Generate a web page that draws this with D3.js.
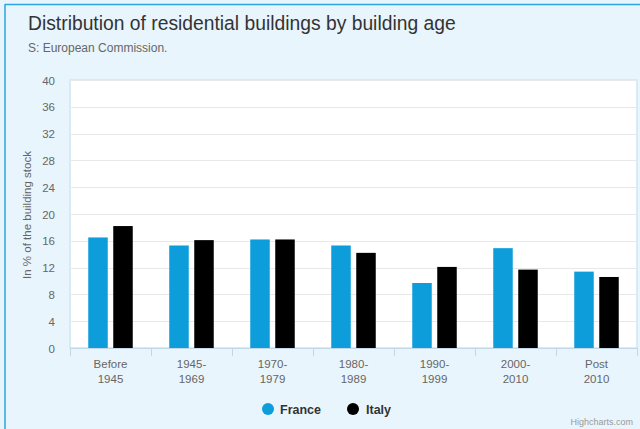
<!DOCTYPE html>
<html>
<head>
<meta charset="utf-8">
<script src="https://cdn.jsdelivr.net/npm/d3@7/dist/d3.min.js"></script>
<style>
  html, body { margin: 0; padding: 0; background: #fff; }
  svg { display: block; font-family: "Liberation Sans", Arial, sans-serif; }
</style>
</head>
<body>
<svg id="chart" width="640" height="429"></svg>
<script>
// Building stock share by construction period (% of residential buildings)
const categories = [["Before", "1945"], ["1945-", "1969"], ["1970-", "1979"], ["1980-", "1989"],
                    ["1990-", "1999"], ["2000-", "2010"], ["Post", "2010"]];
const seriesNames = ["France", "Italy"];
const france = [16.5, 15.3, 16.2, 15.3, 9.7, 14.9, 11.4];
const italy  = [18.2, 16.1, 16.2, 14.2, 12.1, 11.7, 10.6];
const yTicks = [0, 4, 8, 12, 16, 20, 24, 28, 32, 36, 40];
const colors = ["#0d9ddb", "#000000"];

const svg = d3.select("#chart");
const W = 640, H = 429;
const plot = { left: 70, top: 80, right: 637, bottom: 348 };

// Page background and frame
svg.append("rect").attr("width", W).attr("height", H).attr("fill", "#e9f5fc");
svg.append("line").attr("x1", 5).attr("x2", W).attr("y1", 4.5).attr("y2", 4.5)
   .attr("stroke", "#2aa6dc").attr("stroke-width", 1.5);
svg.append("line").attr("x1", 5).attr("x2", 5).attr("y1", 4).attr("y2", H)
   .attr("stroke", "#2aa6dc").attr("stroke-width", 1.5);

// Titles
svg.append("text").attr("x", 28).attr("y", 30)
   .attr("font-size", 19.3).attr("fill", "#333")
   .text("Distribution of residential buildings by building age");
svg.append("text").attr("x", 28).attr("y", 52)
   .attr("font-size", 12).attr("fill", "#666")
   .text("S: European Commission.");

// Scales
const x0 = d3.scaleBand().domain(d3.range(categories.length))
  .range([plot.left, plot.right]).paddingInner(0).paddingOuter(0);
const x1 = d3.scaleBand().domain(seriesNames)
  .range([0, x0.bandwidth()]).paddingInner(0.22).paddingOuter(0.73);
const y = d3.scaleLinear().domain([0, 40]).range([plot.bottom, plot.top]);

// Plot background
svg.append("rect").attr("x", plot.left).attr("y", plot.top)
   .attr("width", plot.right - plot.left).attr("height", plot.bottom - plot.top)
   .attr("fill", "#fff").attr("stroke", "#cde6f3").attr("stroke-width", 1.5);

// Gridlines
svg.append("g").selectAll("line").data(yTicks.filter(t => t > 0)).join("line")
   .attr("x1", plot.left).attr("x2", plot.right)
   .attr("y1", d => Math.round(y(d)) + 0.5).attr("y2", d => Math.round(y(d)) + 0.5)
   .attr("stroke", "#e8e8e8");

// Y axis labels
const yAxis = d3.axisLeft(y).tickValues(yTicks).tickSize(0).tickPadding(0);
const yg = svg.append("g").attr("transform", `translate(${plot.left - 15},0)`).call(yAxis);
yg.select(".domain").remove();
yg.selectAll("text").attr("font-size", 11.5).attr("fill", "#666")
  .attr("font-family", "Liberation Sans, Arial, sans-serif").attr("dy", "0.35em");

svg.append("text")
   .attr("transform", `translate(31,${(plot.top + plot.bottom) / 2 + 1}) rotate(-90)`)
   .attr("text-anchor", "middle").attr("font-size", 11.5).attr("fill", "#666")
   .text("In % of the building stock");

// Bars
const data = categories.map((c, i) => ({ i, values: [france[i], italy[i]] }));
const groups = svg.append("g").selectAll("g").data(data).join("g")
   .attr("transform", d => `translate(${x0(d.i)},0)`);
groups.selectAll("rect").data(d => d.values.map((v, k) => ({ k, v }))).join("rect")
   .attr("x", d => x1(seriesNames[d.k]))
   .attr("width", x1.bandwidth())
   .attr("y", d => y(d.v))
   .attr("height", d => y(0) - y(d.v))
   .attr("fill", d => colors[d.k]);

// X axis line and ticks
svg.append("line").attr("x1", plot.left).attr("x2", plot.right)
   .attr("y1", plot.bottom + 0.5).attr("y2", plot.bottom + 0.5)
   .attr("stroke", "#c0d8e8");
svg.append("g").selectAll("line").data(d3.range(categories.length + 1)).join("line")
   .attr("x1", d => Math.round(plot.left + d * x0.bandwidth()) + 0.5)
   .attr("x2", d => Math.round(plot.left + d * x0.bandwidth()) + 0.5)
   .attr("y1", plot.bottom).attr("y2", plot.bottom + 8)
   .attr("stroke", "#c0d8e8");

// X labels
const xl = svg.append("g").selectAll("text").data(categories).join("text")
   .attr("text-anchor", "middle").attr("font-size", 11.5).attr("fill", "#666")
   .attr("transform", (d, i) => `translate(${x0(i) + x0.bandwidth() / 2},${plot.bottom + 20})`);
xl.selectAll("tspan").data(d => d).join("tspan")
   .attr("x", 0).attr("dy", (d, j) => j === 0 ? 0 : 15).text(d => d);

// Legend
const legend = [{ name: "France", cx: 268, tx: 280 }, { name: "Italy", cx: 353, tx: 366 }];
legend.forEach((l, k) => {
  svg.append("circle").attr("cx", l.cx).attr("cy", 409).attr("r", 6).attr("fill", colors[k]);
  svg.append("text").attr("x", l.tx).attr("y", 414).attr("font-size", 12.5)
     .attr("font-weight", "bold").attr("fill", "#333").text(l.name);
});

// Credit
svg.append("text").attr("x", 633).attr("y", 425).attr("text-anchor", "end")
   .attr("font-size", 9).attr("fill", "#999").text("Highcharts.com");
</script>
</body>
</html>
